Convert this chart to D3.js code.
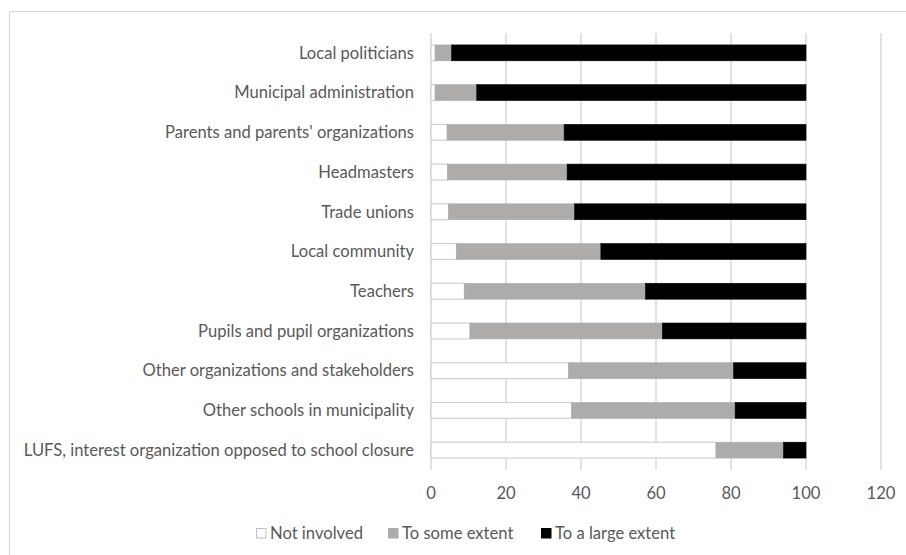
<!DOCTYPE html>
<html><head><meta charset="utf-8">
<script src="https://cdn.jsdelivr.net/npm/d3@7"></script>
<style>body{margin:0;background:#fff}svg{display:block}</style>
</head><body><svg id="c" width="906" height="555"></svg>
<script>
const categories = ["Local politicians","Municipal administration","Parents and parents' organizations","Headmasters","Trade unions","Local community","Teachers","Pupils and pupil organizations","Other organizations and stakeholders","Other schools in municipality","LUFS, interest organization opposed to school closure"];
const notInvolved = [1.1,1.1,4.3,4.4,4.7,6.8,8.9,10.4,36.7,37.5,76.0];
const someExtent = [4.4,11.1,31.2,31.9,33.6,38.5,48.3,51.3,44.0,43.6,18.0];
const largeExtent = [94.5,87.8,64.5,63.7,61.7,54.7,42.8,38.3,19.3,18.9,6.0];
const seriesNames = ["Not involved","To some extent","To a large extent"];
const xTicks = [0,20,40,60,80,100,120];

const colors = ["#ffffff","#aeabab","#000000"];
const strokes = ["#d0d0d0","#aeabab","#000000"];
const font = "Lato, 'Open Sans', sans-serif";
const textCol = "#595959";
const fs = 16.6;

const svg = d3.select("#c");
svg.append("rect").attr("x",9.5).attr("y",11.5).attr("width",920).attr("height",560)
  .attr("fill","none").attr("stroke","#d9d9d9");

const x = d3.scaleLinear().domain([0,120]).range([431,881]);
const y = d3.scaleBand().domain(categories).range([33,470]).paddingInner(0.6).paddingOuter(0.3);

// grid
svg.append("g").selectAll("line").data(xTicks).join("line")
  .attr("x1",d=>x(d)).attr("x2",d=>x(d)).attr("y1",33).attr("y2",470)
  .attr("stroke","#d9d9d9").attr("stroke-width",1.5);

const stackData = categories.map((c,i)=>({cat:c,a:notInvolved[i],b:someExtent[i],c2:largeExtent[i]}));
const stack = d3.stack().keys(["a","b","c2"])(stackData);

stack.forEach((layer,k)=>{
  svg.append("g").selectAll("rect").data(layer).join("rect")
    .attr("x",d=>x(d[0]))
    .attr("y",d=>y(d.data.cat))
    .attr("width",d=>Math.max(0,x(d[1])-x(d[0])))
    .attr("height",y.bandwidth())
    .attr("fill",colors[k])
    .attr("stroke",strokes[k]).attr("stroke-width",k===0?1.2:0.6);
});

// category labels
svg.append("g").selectAll("text").data(categories).join("text")
  .attr("x",414).attr("y",d=>y(d)+y.bandwidth()/2).attr("dy","0.35em")
  .attr("text-anchor","end").attr("font-family",font).attr("font-size",fs)
  .attr("fill",textCol).text(d=>d);

// x tick labels
svg.append("g").selectAll("text").data(xTicks).join("text")
  .attr("x",d=>x(d)).attr("y",493).attr("dy","0.35em").attr("text-anchor","middle")
  .attr("font-family",font).attr("font-size",fs).attr("fill",textCol).text(d=>d);

// legend
const legX = [256,388,541];
const lg = svg.append("g");
seriesNames.forEach((n,i)=>{
  lg.append("rect").attr("x",legX[i]+0.5).attr("y",528.5).attr("width",9.5).attr("height",9.5)
    .attr("fill",colors[i]).attr("stroke",i===0?"#bfbfbf":colors[i]);
  lg.append("text").attr("x",legX[i]+14).attr("y",533).attr("dy","0.35em")
    .attr("font-family",font).attr("font-size",fs).attr("fill",textCol).text(n);
});
</script></body></html>
